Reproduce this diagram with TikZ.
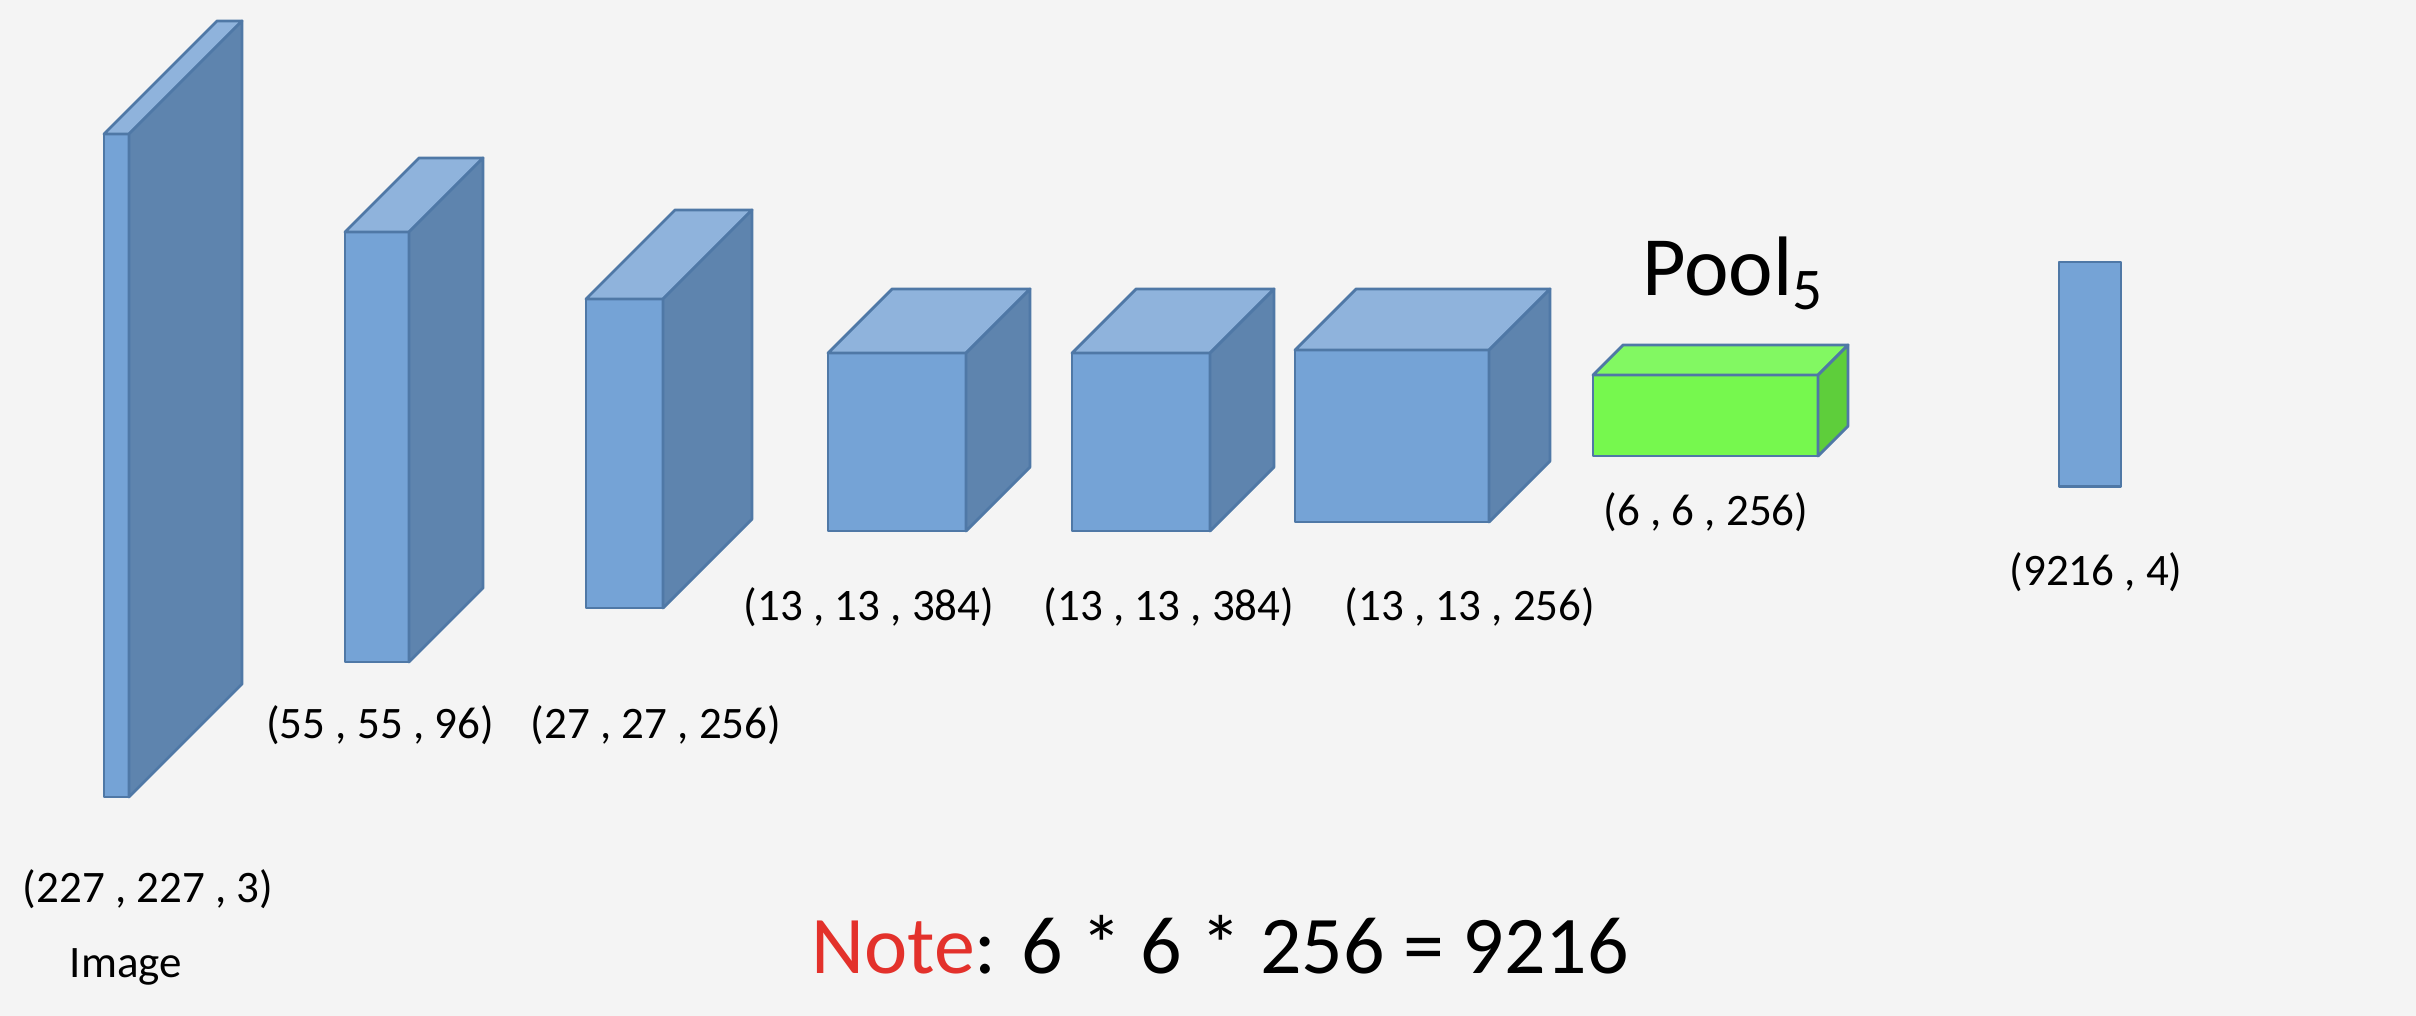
\documentclass[tikz,border=0pt]{standalone}
\usepackage{fontspec}
\setmainfont{Carlito}
\usepackage{xcolor}
\usepackage{tikz}
\usetikzlibrary{calc}
\definecolor{bgc}{HTML}{F4F4F4}
\definecolor{bluefr}{HTML}{75A3D6}
\definecolor{bluetp}{HTML}{8FB3DC}
\definecolor{bluesd}{HTML}{5E84AE}
\definecolor{edgec}{HTML}{4F78A6}
\definecolor{greenfr}{HTML}{76F84E}
\definecolor{greentp}{HTML}{82F862}
\definecolor{greensd}{HTML}{5ECE3B}
\definecolor{notec}{HTML}{E3312B}
\tikzset{
  face/.style={draw=edgec,line width=0.8pt,line join=round},
  lbl/.style={anchor=base,font=\fontsize{12.8}{15}\selectfont},
  big/.style={font=\fontsize{23.3}{28}\selectfont}
}
% name, left, top, width, height, depth, colour
\newcommand{\cnnlayer}[7]{%
  \node[face,fill=#7fr,inner sep=0pt,outer sep=0pt,anchor=north west,
    minimum width=#4*0.01cm,minimum height=#5*0.01cm] (#1) at (#2,#3) {};
  \draw[face,fill=#7tp] (#1.north west) -- ++(#6,-#6) -- ++(#4,0) -- (#1.north east) -- cycle;
  \draw[face,fill=#7sd] (#1.north east) -- ++(#6,-#6) -- ++(0,#5) -- (#1.south east) -- cycle;
}

\begin{document}
\begin{tikzpicture}[x=0.01cm,y=-0.01cm]
\useasboundingbox (0,0) rectangle (2416,1016);
\fill[bgc] (0,0) rectangle (2416,1016);
\cnnlayer{img}{104}{134}{25}{663}{113}{blue}
\cnnlayer{cv1}{345}{232}{64}{430}{74}{blue}
\cnnlayer{cv2}{586}{299}{77}{309}{89}{blue}
\cnnlayer{cv3}{828}{353}{138}{178}{64}{blue}
\cnnlayer{cv4}{1072}{353}{138}{178}{64}{blue}
\cnnlayer{cv5}{1295}{350}{194}{172}{61}{blue}
\cnnlayer{pool}{1593}{375}{225}{81}{30}{green}
\node[face,fill=bluefr,inner sep=0pt,outer sep=0pt,anchor=north west,
  minimum width=0.62cm,minimum height=2.24cm] (fc) at (2059,262) {};
\node[lbl] (limg) at (148,902) {(227 , 227 , 3)};
\node[lbl] (lname) at (126,977) {Image};
\node[lbl] (lcv1) at (380,738) {(55 , 55 , 96)};
\node[lbl] (lcv2) at (656,738) {(27 , 27 , 256)};
\node[lbl] (lcv3) at (869,620) {(13 , 13 , 384)};
\node[lbl] (lcv4) at (1169,620) {(13 , 13 , 384)};
\node[lbl] (lcv5) at (1470,620) {(13 , 13 , 256)};
\node[lbl] (lpool) at (1706,525) {(6 , 6 , 256)};
\node[lbl] (lfc) at (2096,585) {(9216 , 4)};
\node[big,anchor=base west,font=\fontsize{24}{28}\selectfont] (tpool) at (1630,296) {Pool\textsubscript{5}};
\node[big,anchor=base] (note) at (1220,973) {\textcolor{notec}{Note}: 6 * 6 * 256 = 9216};
\end{tikzpicture}
\end{document}
